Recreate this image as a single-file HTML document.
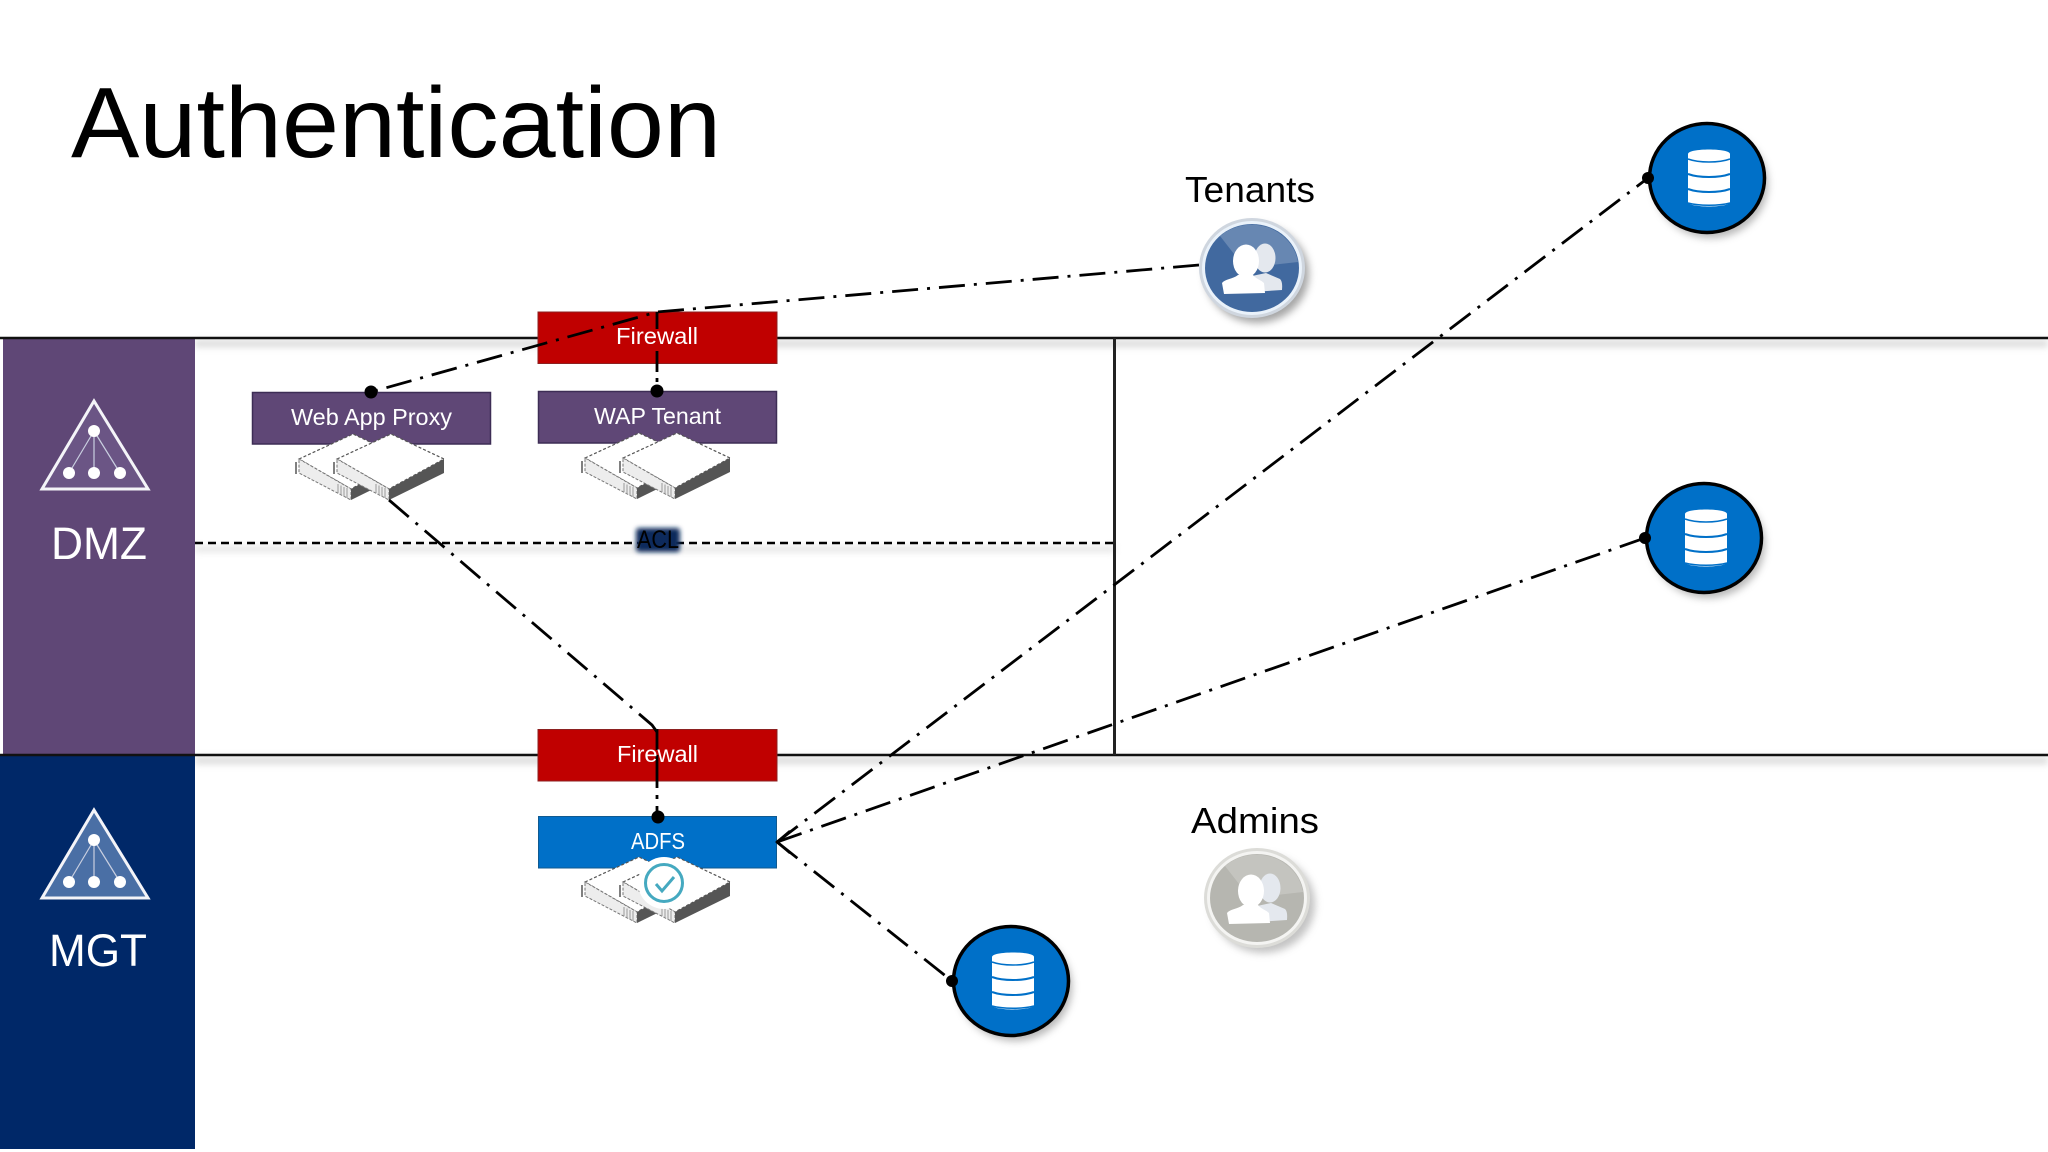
<!DOCTYPE html>
<html lang="en">
<head>
<meta charset="utf-8">
<title>Authentication</title>
<style>
html,body{margin:0;padding:0;background:#fff;width:2048px;height:1152px;overflow:hidden}
svg{display:block}
text{font-family:"Liberation Sans",sans-serif}
</style>
</head>
<body>
<svg xmlns="http://www.w3.org/2000/svg" width="2048" height="1152" viewBox="0 0 2048 1152">
<defs>
  <filter id="b4" x="-5%" y="-300%" width="110%" height="700%"><feGaussianBlur stdDeviation="3.5"/></filter>
  <filter id="b3" x="-30%" y="-60%" width="160%" height="220%"><feGaussianBlur stdDeviation="2.5"/></filter>
  <filter id="sh" x="-30%" y="-30%" width="170%" height="170%"><feGaussianBlur stdDeviation="4"/></filter>
  <g id="srv1">
    <path d="M-1 -1 L53 -26 L106 -1 L51 29 Z" fill="#fff" stroke="#555" stroke-width="1.200" stroke-dasharray="3 2"/>
    <path d="M-1 -1 L51 29 L51 40 L-1 13 Z" fill="#ededed" stroke="#777" stroke-width="1" stroke-dasharray="3 1.500"/>
    <path d="M51 29 L106 -1 L106 13 L51 40 Z" fill="#555"/>
    <path d="M38 24 L38 33 M41 25.500 L41 35 M44 27 L44 36.500 M47 28 L47 38" stroke="#999" stroke-width="1"/>
    <path d="M-4 2 L-4 14" stroke="#555" stroke-width="1.500"/>
  </g>
  <g id="pair">
    <use href="#srv1" x="-38" y="0"/>
    <use href="#srv1" x="0" y="0"/>
  </g>
  <g id="people">
    <ellipse cx="13" cy="-10" rx="10.500" ry="14.500" fill="#e4e8ee"/>
    <path d="M0 8 L14 5 L28 11 C31 14 30 20 30 22 L0 24 Z" fill="#e4e8ee"/>
    <ellipse cx="-6" cy="-7" rx="13" ry="16.500" fill="#fff"/>
    <path d="M-28 26 L-30 15 C-27 11 -19 11 -14 7 L1 7 C4 11 9 12 12 15 L13 25 Z" fill="#fff"/>
  </g>
  <g id="db">
    <ellipse cx="0" cy="0" rx="57.500" ry="54.500" fill="#0070c8" stroke="#000" stroke-width="3.500"/>
    <path d="M-19 -24 C-19 -30 23 -30 23 -24 L23 24 C23 30 -19 30 -19 24 Z" fill="#fff"/>
    <path d="M-19 -19 C-8 -15 12 -15 23 -19" fill="none" stroke="#0070c8" stroke-width="1.500"/>
    <path d="M-19 -4 C-8 0 12 0 23 -4" fill="none" stroke="#0070c8" stroke-width="2"/>
    <path d="M-19 11 C-8 15 12 15 23 11" fill="none" stroke="#0070c8" stroke-width="2"/>
    <path d="M-19 25 C-8 28 12 28 23 25" fill="none" stroke="#0070c8" stroke-width="1.500"/>
  </g>
  <g id="tri">
    <path d="M0 0 L-52 88 L54 88 Z" stroke="#f4f4f8" stroke-width="3" stroke-linejoin="miter"/>
    <path d="M0 30 L-25 72 M0 30 L0 72 M0 30 L26 72" stroke="#c9cfe0" stroke-width="1.200" fill="none"/>
    <circle cx="0" cy="30" r="6" fill="#fff"/>
    <circle cx="-25" cy="72" r="6" fill="#fff"/>
    <circle cx="0" cy="72" r="6" fill="#fff"/>
    <circle cx="26" cy="72" r="6" fill="#fff"/>
  </g>
</defs>

<rect width="2048" height="1152" fill="#fff"/>

<text x="71" y="157" font-size="100" textLength="650" lengthAdjust="spacingAndGlyphs" fill="#000">Authentication</text>

<!-- line shadows -->
<rect x="195" y="340" width="1853" height="7" fill="#bbb" filter="url(#b4)" opacity=".55"/>
<rect x="195" y="757" width="1853" height="7" fill="#bbb" filter="url(#b4)" opacity=".55"/>
<rect x="195" y="546" width="920" height="6" fill="#bbb" filter="url(#b4)" opacity=".4"/>

<!-- side bands -->
<rect x="3" y="338" width="192" height="417" fill="#5f4776"/>
<rect x="0" y="755" width="195" height="394" fill="#002868"/>

<use href="#tri" x="94" y="401" fill="#6b5585"/>
<use href="#tri" x="94" y="810" fill="#4a6fa5"/>
<text x="51" y="559" font-size="45" textLength="96" lengthAdjust="spacingAndGlyphs" fill="#fff">DMZ</text>
<text x="49" y="966" font-size="45" textLength="98" lengthAdjust="spacingAndGlyphs" fill="#fff">MGT</text>

<!-- structure lines -->
<path d="M0 338 H2048 M0 755 H2048" stroke="#111" stroke-width="2.500" fill="none"/>
<path d="M1114.500 338 V755" stroke="#222" stroke-width="3"/>
<path d="M195 543 H1114" stroke="#000" stroke-width="2.500" stroke-dasharray="8 5" fill="none"/>

<!-- ACL -->
<rect x="636" y="528" width="44" height="24" rx="3" fill="#0b2a5c" filter="url(#b3)"/>
<text x="637" y="548" font-size="25" textLength="42" lengthAdjust="spacingAndGlyphs" fill="#000">ACL</text>

<!-- boxes -->
<rect x="538" y="312" width="239" height="51.500" fill="#c00000" stroke="#8c2020" stroke-width="1"/>
<rect x="252.500" y="392.500" width="238" height="51.500" fill="#5f4776" stroke="#3d2d55" stroke-width="1.500"/>
<rect x="538.500" y="391.500" width="238" height="51.500" fill="#5f4776" stroke="#3d2d55" stroke-width="1.500"/>
<rect x="538" y="729.500" width="239" height="51.500" fill="#c00000" stroke="#8c2020" stroke-width="1"/>
<rect x="538.500" y="816.500" width="238" height="51.500" fill="#0070c8" stroke="#105a90" stroke-width="1"/>

<!-- servers -->
<use href="#pair" x="338" y="460"/>
<use href="#pair" x="624" y="459"/>
<use href="#pair" x="624" y="883"/>

<!-- connectors -->
<g fill="none" stroke="#000" stroke-width="2.800">
  <path d="M1199 265 L657 312 L371 392" stroke-dasharray="26 9 3 9"/>
  <path d="M657 312 V329 M657 351 V372 M657 378 V382 M657 386 V391"/>
  <path d="M389 500 L652 725 L657 732" stroke-dasharray="26 9 3 9"/>
  <path d="M657 729 V750 M657 755 V788 M657 795 V799 M657 806 V816"/>
  <path d="M777 842 L1648 178" stroke-dasharray="26 9 3 9"/>
  <path d="M777 842 L1645 538" stroke-dasharray="26 9 3 9"/>
  <path d="M777 842 L952 981" stroke-dasharray="26 9 3 9"/>
</g>

<!-- box labels -->
<text x="616" y="344" font-size="23" textLength="82" lengthAdjust="spacingAndGlyphs" fill="#fff">Firewall</text>
<text x="291" y="425" font-size="23" textLength="161" lengthAdjust="spacingAndGlyphs" fill="#fff">Web App Proxy</text>
<text x="594" y="424" font-size="23" textLength="127" lengthAdjust="spacingAndGlyphs" fill="#fff">WAP Tenant</text>
<text x="617" y="762" font-size="23" textLength="81" lengthAdjust="spacingAndGlyphs" fill="#fff">Firewall</text>
<text x="631" y="849" font-size="23" textLength="54" lengthAdjust="spacingAndGlyphs" fill="#fff">ADFS</text>

<!-- ADFS check badge -->
<circle cx="664" cy="883" r="26" fill="#fff"/>
<circle cx="664" cy="883" r="18.500" fill="none" stroke="#45a9c0" stroke-width="3"/>
<path d="M656 884 L662 891 L674 877" fill="none" stroke="#45a9c0" stroke-width="3"/>

<!-- databases -->
<ellipse cx="1711" cy="184" rx="57" ry="54" fill="#999" filter="url(#sh)" opacity=".7"/>
<use href="#db" x="1707" y="178"/>
<ellipse cx="1708" cy="544" rx="57" ry="54" fill="#999" filter="url(#sh)" opacity=".7"/>
<use href="#db" x="1704" y="538"/>
<ellipse cx="1015" cy="987" rx="57" ry="54" fill="#999" filter="url(#sh)" opacity=".7"/>
<use href="#db" x="1011" y="981"/>

<!-- dots -->
<g fill="#000">
  <circle cx="371" cy="392" r="6.500"/>
  <circle cx="657" cy="391" r="6.500"/>
  <circle cx="658" cy="817" r="6.500"/>
  <circle cx="1648" cy="178" r="6"/>
  <circle cx="1645" cy="538" r="6"/>
  <circle cx="952" cy="981" r="6"/>
</g>
<path d="M790 831 L777 842 L790 853" fill="none" stroke="#000" stroke-width="2.500"/>

<!-- Tenants -->
<text x="1185" y="202" font-size="36" textLength="130" lengthAdjust="spacingAndGlyphs" fill="#000">Tenants</text>
<ellipse cx="1257" cy="274" rx="52" ry="49" fill="#888" filter="url(#sh)" opacity=".75"/>
<ellipse cx="1252" cy="268" rx="53" ry="50" fill="#cfd6df"/>
<ellipse cx="1252" cy="268" rx="50" ry="47" fill="#eaf2fa"/>
<ellipse cx="1252" cy="268" rx="47" ry="44" fill="#41699f"/>
<path d="M1220 236 A47 44 0 0 1 1298 262 L1245 268 Z" fill="#fff" opacity=".2"/>
<use href="#people" x="1252" y="268"/>

<!-- Admins -->
<text x="1191" y="833" font-size="36" textLength="128" lengthAdjust="spacingAndGlyphs" fill="#000">Admins</text>
<ellipse cx="1263" cy="904" rx="52" ry="49" fill="#aaa" filter="url(#sh)" opacity=".7"/>
<ellipse cx="1257" cy="898" rx="53" ry="50" fill="#dcdcd8"/>
<ellipse cx="1257" cy="898" rx="50" ry="47" fill="#f4f4f2"/>
<ellipse cx="1257" cy="898" rx="47" ry="44" fill="#b6b6b0"/>
<path d="M1225 866 A47 44 0 0 1 1303 892 L1250 898 Z" fill="#fff" opacity=".2"/>
<use href="#people" x="1257" y="898"/>
</svg>
</body>
</html>
